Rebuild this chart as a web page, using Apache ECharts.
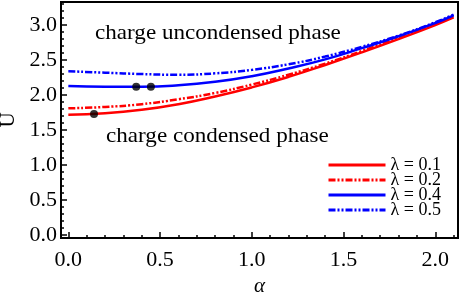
<!DOCTYPE html>
<html><head><meta charset="utf-8">
<script src="https://cdn.jsdelivr.net/npm/echarts@6/dist/echarts.min.js"></script>
<style>html,body{margin:0;padding:0;background:#fff}#c{width:463px;height:300px}</style>
</head><body><div id="c"></div>
<script>
var alphaVals = [0, 0.2, 0.4, 0.6, 0.8, 1.0, 1.2, 1.4, 1.6, 1.8, 2.0, 2.1];
var U_l01 = [1.72, 1.74, 1.79, 1.87, 1.98, 2.11, 2.26, 2.43, 2.61, 2.80, 3.00, 3.11];
var U_l02 = [1.81, 1.83, 1.87, 1.94, 2.03, 2.15, 2.29, 2.45, 2.63, 2.82, 3.02, 3.12];
var U_l04 = [2.13, 2.12, 2.12, 2.14, 2.19, 2.27, 2.38, 2.51, 2.67, 2.84, 3.03, 3.14];
var U_l05 = [2.34, 2.32, 2.30, 2.29, 2.31, 2.36, 2.44, 2.55, 2.69, 2.85, 3.04, 3.15];
var dotAlpha = [0.14, 0.37, 0.45];
var dotU = [1.73, 2.12, 2.12];
var xTickLabels = [0.0, 0.5, 1.0, 1.5, 2.0];
var yTickLabels = [0.0, 0.5, 1.0, 1.5, 2.0, 2.5, 3.0];
var seriesNames = ['λ = 0.1', 'λ = 0.2', 'λ = 0.4', 'λ = 0.5'];

function pairs(xs, ys){ return xs.map(function(x,i){return [x, ys[i]];}); }
function steps(a, b, s){ var r=[]; for (var v=a; v<=b+1e-9; v+=s) r.push(Math.round(v*10)/10); return r; }

var FONT = 'Liberation Serif';
var XMIN=-0.04, XMAX=2.124, YMIN=-0.043, YMAX=3.33;
var dd = [7,2,2,2,2,2];

var chart = echarts.init(document.getElementById('c'));
function lineSeries(name, data, color, type){
  return {name:name, type:'line', data:data, smooth:true, showSymbol:false, symbol:'none',
    lineStyle:{color:color, width:2.5, type:type}, itemStyle:{color:color}, z:3};
}
function legendAt(name, top){
  return {data:[name], left:327, top:top, orient:'vertical', itemWidth:57, itemHeight:10,
    itemStyle:{opacity:0}, lineStyle:{width:3},
    textStyle:{fontFamily:FONT, fontSize:18, color:'#000'}, selectedMode:false, padding:0};
}
var axisCommon = {type:'value', splitLine:{show:false}, axisLine:{show:false, onZero:false}};
chart.setOption({
  animation:false,
  grid:{left:61, right:5, top:2, bottom:62, show:true, borderColor:'#000', borderWidth:2,
    backgroundColor:'transparent', containLabel:false, outerBoundsMode:'none'},
  xAxis:[
    Object.assign({}, axisCommon, {min:XMIN, max:XMAX, position:'bottom',
      name:'α', nameLocation:'middle', nameGap:31,
      nameTextStyle:{fontFamily:FONT, fontSize:21, fontStyle:'italic', color:'#000'},
      axisTick:{show:true, inside:true, length:6, lineStyle:{color:'#000', width:1.5}, customValues:xTickLabels},
      axisLabel:{customValues:xTickLabels, fontFamily:FONT, fontSize:22, color:'#000', margin:11,
        formatter:function(v){return v.toFixed(1);}}}),
    Object.assign({}, axisCommon, {min:XMIN, max:XMAX, position:'bottom',
      axisTick:{show:true, inside:true, length:3, lineStyle:{color:'#000', width:1.5}, customValues:steps(0,2.1,0.1)},
      axisLabel:{show:false}})
  ],
  yAxis:[
    Object.assign({}, axisCommon, {min:YMIN, max:YMAX, position:'left',
      name:'U', nameLocation:'middle', nameGap:42, nameRotate:90,
      nameTextStyle:{fontFamily:FONT, fontSize:21, color:'#000'},
      axisTick:{show:true, inside:true, length:6, lineStyle:{color:'#000', width:1.5}, customValues:yTickLabels},
      axisLabel:{customValues:yTickLabels, fontFamily:FONT, fontSize:22, color:'#000', margin:4,
        formatter:function(v){return v.toFixed(1);}}}),
    Object.assign({}, axisCommon, {min:YMIN, max:YMAX, position:'left',
      axisTick:{show:true, inside:true, length:3, lineStyle:{color:'#000', width:1.5}, customValues:steps(0,3.3,0.1)},
      axisLabel:{show:false}})
  ],
  legend:[legendAt(seriesNames[0],156), legendAt(seriesNames[1],171), legendAt(seriesNames[2],186), legendAt(seriesNames[3],201)],
  graphic:[
    {type:'text', x:95, y:23, scaleX:1.1, style:{text:'charge uncondensed phase', font:'21px "Liberation Serif"', fill:'#000'}},
    {type:'text', x:106, y:126, scaleX:1.1, style:{text:'charge condensed phase', font:'21px "Liberation Serif"', fill:'#000'}}
  ],
  series:[
    lineSeries(seriesNames[0], pairs(alphaVals,U_l01), '#ff0000', 'solid'),
    lineSeries(seriesNames[1], pairs(alphaVals,U_l02), '#ff0000', dd),
    lineSeries(seriesNames[2], pairs(alphaVals,U_l04), '#0000ff', 'solid'),
    lineSeries(seriesNames[3], pairs(alphaVals,U_l05), '#0000ff', dd),
    {type:'scatter', data:pairs(dotAlpha,dotU), symbolSize:8, itemStyle:{color:'#000'}, z:5}
  ]
});
</script></body></html>
